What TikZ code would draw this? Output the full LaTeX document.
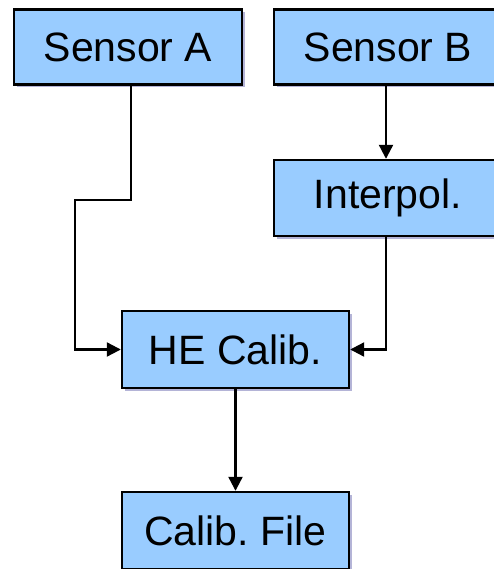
\documentclass[tikz,border=0pt]{standalone}
\usepackage{fontspec}
\setmainfont{Liberation Sans}
\frenchspacing
\usetikzlibrary{arrows.meta,shadows}
\definecolor{boxblue}{HTML}{99CCFF}
\tikzset{
	block/.style={draw=black, line width=2.4pt, fill=boxblue, minimum width=228pt, minimum height=75pt, inner sep=0pt, font=\fontsize{41}{45}\selectfont, drop shadow={shadow xshift=2.5pt, shadow yshift=-2.5pt, fill=blue!30!gray, opacity=0.45}},
	flow/.style={draw=black, line width=2.2pt, -{Triangle[length=14pt, width=14pt]}}
}
\begin{document}
\begin{tikzpicture}[x=1pt, y=-1pt]
		\useasboundingbox (0,0) rectangle (494,569);

		\node[block] (sensA) at (128,47) {Sensor A};
		\node[block] (sensB) at (388,47) {Sensor B};
		\node[block, minimum height=76pt] (interp) at (388,198) {Interpol.};
		\node[block, minimum width=227pt, minimum height=77pt] (calib) at (235.5,349.5) {HE Calib.};
		\node[block, minimum width=227pt, minimum height=77pt] (file) at (235.5,530.5) {Calib. File};

		\coordinate (bendA) at (131,200);
		\coordinate (bendB) at (75,200);

		\draw[flow] ([xshift=3pt]sensA.south) -- (bendA) -- (bendB) |- (calib.west);
		\draw[flow] ([xshift=-2pt]sensB.south) -- ([xshift=-2pt]interp.north);
		\draw[flow] ([xshift=-2pt]interp.south) |- (calib.east);
		\draw[flow] (calib.south) -- (file.north);
	\end{tikzpicture}
\end{document}
